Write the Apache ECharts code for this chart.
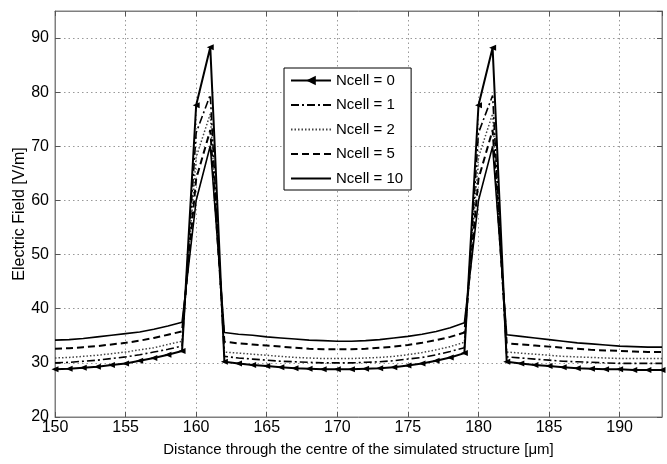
<!DOCTYPE html>
<html><head><meta charset="utf-8">
<script src="https://cdn.jsdelivr.net/npm/echarts@6/dist/echarts.min.js"></script>
<style>html,body{margin:0;padding:0;background:#fff}#c{width:667px;height:464px}</style>
</head><body><div id="c"></div>
<script>
const xValues = [150,151,152,153,154,155,156,157,158,159,160,161,162,163,164,165,166,167,168,169,170,171,172,173,174,175,176,177,178,179,180,181,182,183,184,185,186,187,188,189,190,191,192,193];
const ncell0 = [28.8,28.9,29.1,29.3,29.6,29.9,30.4,30.9,31.5,32.2,77.6,88.3,30.2,29.9,29.6,29.4,29.2,29.0,28.9,28.8,28.8,28.8,28.9,29.0,29.2,29.5,29.9,30.4,31.0,31.8,77.6,88.2,30.2,29.9,29.6,29.4,29.2,29.0,28.9,28.8,28.8,28.7,28.7,28.7];
const ncell1 = [30.0,30.1,30.3,30.5,30.8,31.1,31.5,32.0,32.5,33.1,72.5,79.5,31.2,30.9,30.7,30.5,30.3,30.2,30.1,30.0,30.0,30.0,30.1,30.2,30.4,30.7,31.0,31.5,32.1,32.8,72.5,79.4,31.1,30.9,30.7,30.5,30.3,30.2,30.1,30.0,29.9,29.9,29.9,29.9];
const ncell2 = [30.9,31.0,31.2,31.4,31.7,32.0,32.4,32.8,33.4,34.0,68.0,76.0,32.0,31.8,31.6,31.4,31.2,31.0,30.9,30.8,30.8,30.8,30.9,31.0,31.2,31.5,31.9,32.4,33.0,33.8,68.0,76.0,32.0,31.8,31.6,31.4,31.2,31.1,31.0,30.9,30.8,30.8,30.8,30.8];
const ncell5 = [32.6,32.7,32.9,33.1,33.4,33.7,34.1,34.6,35.2,35.8,64.0,73.0,33.9,33.6,33.4,33.2,33.0,32.8,32.6,32.5,32.5,32.5,32.6,32.8,33.0,33.3,33.7,34.2,34.8,35.6,64.0,73.0,33.6,33.4,33.2,33.0,32.8,32.6,32.4,32.3,32.2,32.1,32.0,32.0];
const ncell10 = [34.2,34.3,34.5,34.8,35.1,35.4,35.7,36.2,36.8,37.5,60.0,70.1,35.6,35.3,35.1,34.8,34.6,34.4,34.2,34.1,34.0,34.0,34.1,34.3,34.6,34.9,35.3,35.8,36.5,37.4,60.0,70.0,35.2,34.9,34.6,34.3,34.0,33.7,33.5,33.3,33.1,33.0,32.9,32.9];
const seriesNames = ['Ncell = 0','Ncell = 1','Ncell = 2','Ncell = 5','Ncell = 10'];
const xTicks = [150,155,160,165,170,175,180,185,190];
const yTicks = [20,30,40,50,60,70,80,90];

const pairs = arr => xValues.map((x,i)=>[x,arr[i]]);
const FONT = 'Liberation Sans, Arial, sans-serif';
const HIDE = {color:'rgba(0,0,0,0)',borderColor:'rgba(0,0,0,0)',borderWidth:0};
const chart = echarts.init(document.getElementById('c'));
const axisCommon = {
  axisLine:{show:true,lineStyle:{color:'#7f7f7f',width:1}},
  axisTick:{show:true,inside:true,length:5,lineStyle:{color:'#555'}},
};
chart.setOption({
  animation:false,
  backgroundColor:'#fff',
  grid:{left:55,right:5,top:11,bottom:47,show:true,borderColor:'#7f7f7f',borderWidth:1},
  legend:{
    orient:'vertical', left:284, top:68,
    data:seriesNames.map((n,i)=> i===0 ? {name:n} : {name:n,itemStyle:HIDE}),
    backgroundColor:'#fff', borderColor:'#000', borderWidth:1,
    padding:[5,8,4,6], itemWidth:40, itemHeight:12, itemGap:9.5,
    textStyle:{fontFamily:FONT,fontSize:15,color:'#000'}
  },
  xAxis:[{
    type:'value',min:150,max:193,interval:5,
    ...axisCommon,
    splitLine:{show:true,lineStyle:{color:'#999',type:[1.5,3],width:1}},
    axisLabel:{color:'#000',fontFamily:FONT,fontSize:16,margin:3,showMaxLabel:false,
      formatter:v=>xTicks.includes(v)?String(v):''},
    name:'Distance through the centre of the simulated structure [\u03bcm]',
    nameLocation:'middle',nameGap:25,nameMoveOverlap:false,
    nameTextStyle:{color:'#000',fontFamily:FONT,fontSize:15}
  },{
    type:'value',min:150,max:193,interval:5,position:'top',
    ...axisCommon,splitLine:{show:false},axisLabel:{show:false}
  }],
  yAxis:[{
    type:'value',min:20,max:95,interval:10,
    ...axisCommon,
    splitLine:{show:true,lineStyle:{color:'#999',type:[1.5,3],width:1}},
    axisLabel:{color:'#000',fontFamily:FONT,fontSize:16,margin:6,showMaxLabel:false,
      formatter:v=>yTicks.includes(v)?String(v):''},
    name:'Electric Field [V/m]',nameLocation:'middle',nameGap:27,nameMoveOverlap:false,
    nameTextStyle:{color:'#000',fontFamily:FONT,fontSize:16}
  },{
    type:'value',min:20,max:95,interval:10,position:'right',
    ...axisCommon,splitLine:{show:false},axisLabel:{show:false}
  }],
  series:[
    {name:seriesNames[0],type:'line',data:pairs(ncell0),z:10,
     symbol:'triangle',symbolSize:[6,7],symbolRotate:90,showSymbol:true,
     itemStyle:{color:'#000'},lineStyle:{color:'#000',width:2}},
    {name:seriesNames[1],type:'line',data:pairs(ncell1),z:6,symbol:'none',
     itemStyle:{color:'#000'},lineStyle:{color:'#000',width:1.6,type:[8,3,2,3]}},
    {name:seriesNames[2],type:'line',data:pairs(ncell2),z:5,symbol:'none',
     itemStyle:{color:'#444'},lineStyle:{color:'#444',width:1.5,type:[1.5,2]}},
    {name:seriesNames[3],type:'line',data:pairs(ncell5),z:7,symbol:'none',
     itemStyle:{color:'#000'},lineStyle:{color:'#000',width:2,type:[7,4]}},
    {name:seriesNames[4],type:'line',data:pairs(ncell10),z:8,symbol:'none',
     itemStyle:{color:'#000'},lineStyle:{color:'#000',width:1.6}}
  ]
});
</script></body></html>
